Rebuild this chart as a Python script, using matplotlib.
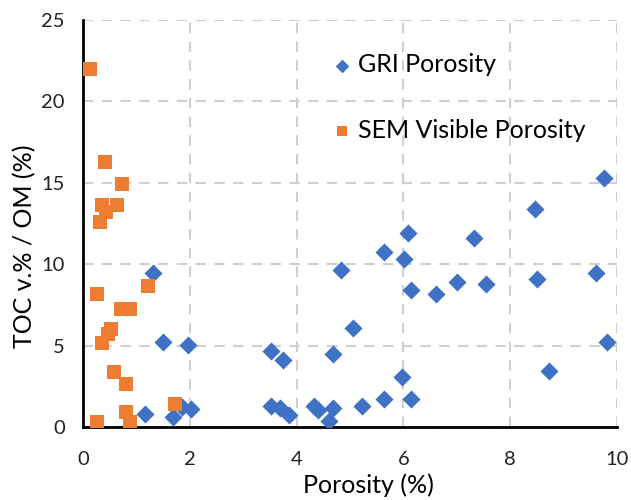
import matplotlib
matplotlib.use("Agg")
import matplotlib.pyplot as plt

gri_x = [1.16, 1.32, 1.49, 1.69, 1.85, 1.96, 2.02, 3.53, 3.53, 3.69, 3.75, 3.86,
         4.33, 4.41, 4.61, 4.68, 4.68, 4.83, 5.05, 5.22, 5.64, 5.64, 5.97, 6.02,
         6.09, 6.14, 6.14, 6.62, 7.01, 7.32, 7.55, 8.46, 8.51, 8.73, 9.61, 9.76, 9.82]
gri_y = [0.78, 9.47, 5.20, 0.63, 1.25, 5.03, 1.10, 4.68, 1.32, 1.15, 4.11, 0.74,
         1.29, 1.04, 0.39, 1.15, 4.48, 9.63, 6.09, 1.29, 10.72, 1.70, 3.09, 10.35,
         11.92, 8.40, 1.70, 8.20, 8.91, 11.58, 8.77, 13.37, 9.12, 3.46, 9.47, 15.32, 5.20]

sem_x = [0.14, 0.41, 0.74, 0.36, 0.63, 0.43, 0.31, 1.22, 0.26, 0.72, 0.88, 0.52,
         0.46, 0.36, 0.58, 0.80, 1.72, 0.80, 0.88, 0.26]
sem_y = [22.0, 16.3, 14.9, 13.66, 13.66, 13.2, 12.6, 8.67, 8.14, 7.24, 7.24, 6.05,
         5.7, 5.13, 3.36, 2.64, 1.39, 0.9, 0.33, 0.33]

x_ticks = [0, 2, 4, 6, 8, 10]
y_ticks = [0, 5, 10, 15, 20, 25]

plt.rcParams['font.family'] = ['Lato', 'DejaVu Sans']

fig = plt.figure(figsize=(6.31, 5.0), dpi=100)
ax = fig.add_axes([0.1315, 0.146, 0.846, 0.814])

ax.scatter(gri_x, gri_y, marker='D', s=85, color='#3F72C4', label='GRI Porosity', zorder=3, linewidths=0)
ax.scatter(sem_x, sem_y, marker='s', s=95, color='#ED7D31', label='SEM Visible Porosity', zorder=3, linewidths=0)

ax.set_xlim(0, 10)
ax.set_ylim(0, 25)
ax.set_xticks(x_ticks)
ax.set_yticks(y_ticks)
ax.grid(True, linestyle=(0, (5, 4)), color='#d0d0d0', linewidth=1.5, zorder=0)
ax.set_axisbelow(True)
for s in ['top', 'right']:
    ax.spines[s].set_visible(False)
for s in ['left', 'bottom']:
    ax.spines[s].set_linewidth(2)
    ax.spines[s].set_color('black')
ax.tick_params(length=0, labelsize=14.5, colors='#222222')
ax.tick_params(axis='x', pad=17)
ax.tick_params(axis='y', pad=13)
ax.set_xlabel('Porosity (%)', fontsize=18)
ax.xaxis.set_label_coords(0.535, -0.115)
ax.set_ylabel('TOC v.% / OM (%)', fontsize=18)
ax.yaxis.set_label_coords(-0.088, 0.445)

leg = ax.legend(loc='upper left', bbox_to_anchor=(0.461, 0.918), frameon=False,
                fontsize=18, labelspacing=1.7, handlelength=1.0, handletextpad=0.15,
                borderaxespad=0, borderpad=0, markerscale=0.75)

fig.savefig('out.png', dpi=100)
